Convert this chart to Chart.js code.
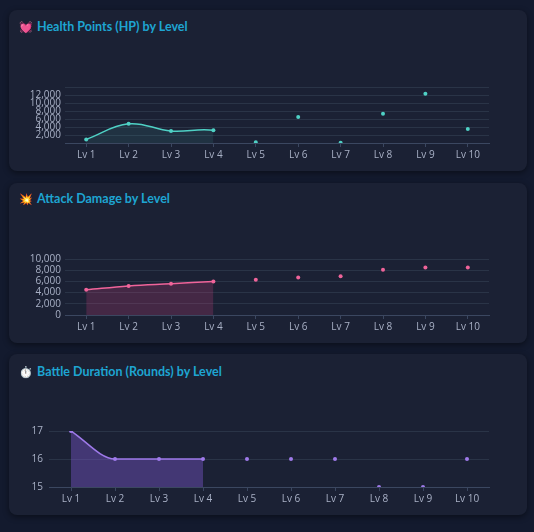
<!DOCTYPE html>
<html><head><meta charset="utf-8">
<script src="https://cdn.jsdelivr.net/npm/chart.js@4.4.0/dist/chart.umd.min.js"></script>
<style>
html,body{margin:0;padding:0;background:#131a2e;width:534px;height:532px;overflow:hidden;font-family:'Open Sans','Noto Sans',sans-serif;}
.card{position:absolute;left:9px;width:518px;background:#1b2134;border-radius:8px;box-shadow:0 2px 6px rgba(0,0,0,0.45);}
.title{position:absolute;left:10px;font-family:Lato,'Open Sans',sans-serif;font-weight:700;font-size:12.5px;color:#1ea5d2;white-space:nowrap;}
.title .em{font-size:11px;margin-right:4px;}
canvas{position:absolute;}
</style></head><body>
<div class="card" style="top:10px;height:161px;"><div class="title" style="top:9px;"><span class="em">💓</span>Health Points (HP) by Level</div></div>
<div class="card" style="top:183px;height:160px;"><div class="title" style="top:8px;"><span class="em">💥</span>Attack Damage by Level</div></div>
<div class="card" style="top:354px;height:161px;"><div class="title" style="top:10px;"><span class="em">⏱️</span>Battle Duration (Rounds) by Level</div></div>
<canvas id="c1" width="500" height="125" style="left:12px;top:40px;"></canvas>
<canvas id="c2" width="500" height="122" style="left:12px;top:215px;"></canvas>
<canvas id="c3" width="500" height="124" style="left:12px;top:385px;"></canvas>
<script>
const levels = ['Lv 1','Lv 2','Lv 3','Lv 4','Lv 5','Lv 6','Lv 7','Lv 8','Lv 9','Lv 10'];
const hpValues = [900, 4800, 3000, 3200, 200, 6500, 50, 7300, 12300, 3500];
const attackValues = [4500, 5200, 5600, 6000, 6300, 6700, 6900, 8100, 8500, 8500];
const durationValues = [17, 16, 16, 16, 16, 16, 16, 15, 15, 16];
const hpTicks = [2000, 4000, 6000, 8000, 10000, 12000];

const TICK = '#a9b1c6', GRID = '#2a3447', AXIS = '#3b4760';
const DRAWN = 3;

function make(id, data, color, fill, yOpts, yWidth, padTop, mono) {
  new Chart(document.getElementById(id), {
    type: 'line',
    data: { labels: levels, datasets: [{
      data: data, borderColor: color, backgroundColor: fill, borderWidth: 1.5,
      fill: 'origin', tension: 0.4, cubicInterpolationMode: mono ? 'monotone' : 'default',
      pointRadius: 2, pointBackgroundColor: color, pointBorderWidth: 0, pointHoverRadius: 3,
      segment: {
        borderColor: c => c.p1DataIndex <= DRAWN ? color : 'transparent',
        backgroundColor: c => c.p1DataIndex <= DRAWN ? fill : 'transparent'
      }
    }]},
    options: {
      responsive: false, animation: false,
      layout: { padding: { top: padTop, right: 23, left: 0, bottom: 0 } },
      plugins: { legend: { display: false }, tooltip: { enabled: false } },
      scales: {
        x: {
          offset: true,
          grid: { drawOnChartArea: false, drawTicks: true, tickLength: 4, color: AXIS },
          border: { display: true, color: AXIS },
          ticks: { color: TICK, font: { size: 10, family: "'Open Sans','Noto Sans',sans-serif" }, padding: 2, maxRotation: 0, autoSkip: false },
          afterFit: s => { s.height = 22; }
        },
        y: Object.assign({
          grid: { color: GRID, drawTicks: false },
          border: { display: false },
          afterFit: s => { s.width = yWidth; }
        }, yOpts)
      }
    }
  });
}

const yFont = { size: 10, family: "'Open Sans','Noto Sans',sans-serif" };

make('c1', hpValues, '#4fd1c5', 'rgba(79,209,197,0.10)', {
  min: 0, max: 14000,
  ticks: { stepSize: 2000, autoSkip: false, color: TICK, font: yFont, padding: 4,
    callback: v => hpTicks.includes(v) ? v.toLocaleString('en-US') : '' }
}, 53, 47, false);

make('c2', attackValues, '#f0649a', 'rgba(236,72,140,0.20)', {
  min: 0, max: 10000,
  ticks: { stepSize: 2000, autoSkip: false, color: TICK, font: yFont, padding: 4,
    callback: v => v.toLocaleString('en-US') }
}, 53, 44, false);

make('c3', durationValues, '#9f7aea', 'rgba(128,90,213,0.40)', {
  min: 15, max: 17,
  ticks: { stepSize: 1, autoSkip: false, color: TICK, font: yFont, padding: 6 }
}, 37, 46, true);
</script>
</body></html>
